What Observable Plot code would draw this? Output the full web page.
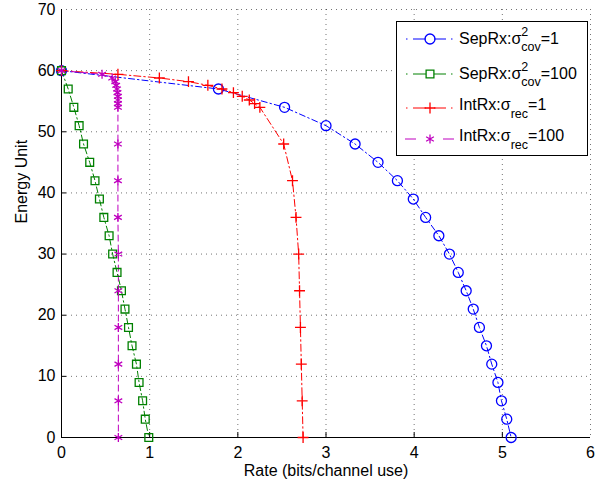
<!DOCTYPE html>
<html>
<head>
<meta charset="utf-8">
<script src="https://cdn.jsdelivr.net/npm/d3@7"></script>
<script src="https://cdn.jsdelivr.net/npm/@observablehq/plot@0.6"></script>
<style>
  body { margin: 0; background: #fff; font-family: "Liberation Sans", Arial, sans-serif; }
  #wrap { position: relative; width: 610px; height: 481px; overflow: hidden; }
  #legend { position: absolute; left: 396px; top: 21px; width: 190px; height: 133px;
            border: 1.5px solid #000; background: #fff; }
  .smp { position: absolute; left: 0; }
  .txt { position: absolute; left: 62px; font-size: 16px; line-height: 16px; white-space: nowrap; color: #000; }
  .sp { font-size: 12.5px; line-height: 0; vertical-align: 8px; }
  .sb { font-size: 12.5px; line-height: 0; vertical-align: -7.5px; }
</style>
</head>
<body>
<div id="wrap">
  <div id="chart"></div>
  <div id="legend"></div>
</div>
<script>
// ---- data ----
const energySep = [60, 57, 54, 51, 48, 45, 42, 39, 36, 33, 30, 27, 24, 21, 18, 15, 12, 9, 6, 3, 0];
const rateSepCov1 = [0, 1.78, 2.53, 3.00, 3.33, 3.59, 3.81, 3.99, 4.13, 4.28, 4.40, 4.50, 4.59, 4.67, 4.74, 4.82, 4.88, 4.95, 4.99, 5.05, 5.10];
const rateSepCov100 = [0, 0.076, 0.14, 0.20, 0.25, 0.32, 0.38, 0.43, 0.48, 0.54, 0.58, 0.63, 0.68, 0.72, 0.76, 0.80, 0.85, 0.88, 0.92, 0.95, 0.99];
const energyInt = [60, 59.4, 58.8, 58.2, 57.6, 57.0, 56.4, 55.8, 55.2, 54.6, 54.0, 48, 42, 36, 30, 24, 18, 12, 6, 0];
const rateIntRec1 = [0, 0.64, 1.11, 1.44, 1.66, 1.82, 1.95, 2.05, 2.13, 2.19, 2.25, 2.52, 2.62, 2.66, 2.69, 2.70, 2.71, 2.72, 2.73, 2.74];
const rateIntRec100 = [0, 0.46, 0.575, 0.61, 0.62, 0.63, 0.635, 0.64, 0.64, 0.64, 0.64, 0.64, 0.64, 0.64, 0.645, 0.645, 0.645, 0.645, 0.645, 0.645];
const xTicks = [0, 1, 2, 3, 4, 5, 6];
const yTicks = [0, 10, 20, 30, 40, 50, 60, 70];
const xLabel = "Rate (bits/channel use)";
const yLabel = "Energy Unit";

// ---- series styles ----
const series = [
  {key: "s1", rates: rateSepCov1, energy: energySep, color: "#0000ff", dash: "6,3,1.5,3", symbol: "circle", r: 5,
   label: 'SepRx:σ<span class="sp">2</span><span class="sb" style="margin-left:-7px">cov</span>=1'},
  {key: "s2", rates: rateSepCov100, energy: energySep, color: "#008000", dash: "6,3,1.5,3", symbol: "square", r: 4.4,
   label: 'SepRx:σ<span class="sp">2</span><span class="sb" style="margin-left:-7px">cov</span>=100'},
  {key: "s3", rates: rateIntRec1, energy: energyInt, color: "#ff0000", dash: "7,3,1.5,3", symbol: "plus", r: 3.6,
   label: 'IntRx:σ<span class="sb">rec</span>=1'},
  {key: "s4", rates: rateIntRec100, energy: energyInt, color: "#bf00bf", dash: "6,4", symbol: "asterisk", r: 4.2,
   label: 'IntRx:σ<span class="sb">rec</span>=100'}
];

const rows = series.map(s => s.rates.map((x, i) => ({x, y: s.energy[i]})));

const W = 610, H = 481, mL = 61, mR = 20, mT = 9, mB = 44;
const frameW = W - mL - mR, frameH = H - mT - mB;
const grid = {stroke: "#000", strokeOpacity: 0.55, strokeDasharray: "1,4", strokeWidth: 1};

const marks = [
  Plot.ruleX(xTicks.slice(1), {x: d => d, ...grid}),
  Plot.ruleY(yTicks.slice(1), {y: d => d, ...grid}),
  Plot.ruleX([0], {stroke: "#000", strokeWidth: 1}),
  Plot.ruleY([0], {stroke: "#000", strokeWidth: 1}),
  Plot.tickX(xTicks.slice(1, -1), {x: d => d, stroke: "#000", insetTop: frameH - 5}),
  Plot.tickY(yTicks.slice(1, -1), {y: d => d, stroke: "#000", insetRight: frameW - 5}),
];
series.forEach((s, i) => {
  marks.push(Plot.line(rows[i], {x: "x", y: "y", stroke: s.color, strokeWidth: 1, strokeDasharray: s.dash}));
});
series.forEach((s, i) => {
  marks.push(Plot.dot(rows[i], {x: "x", y: "y", stroke: s.color, fill: "none", symbol: s.symbol, r: s.r, strokeWidth: 1.3}));
});
marks.push(
  Plot.axisX(xTicks, {tickSize: 0, tickPadding: 9, fontSize: 16, label: null}),
  Plot.axisY(yTicks, {tickSize: 0, tickPadding: 6, fontSize: 16, label: null}),
  Plot.text([xLabel], {frameAnchor: "bottom", dy: 33, text: d => d, fontSize: 16, lineAnchor: "middle"}),
  Plot.text([yLabel], {frameAnchor: "left", dx: -40, text: d => d, fontSize: 16, rotate: -90, lineAnchor: "middle"})
);

const chart = Plot.plot({
  width: W, height: H,
  marginLeft: mL, marginRight: mR, marginTop: mT, marginBottom: mB,
  x: {domain: [0, 6]},
  y: {domain: [0, 70]},
  style: {fontFamily: '"Liberation Sans", Arial, sans-serif', fontSize: "16px", color: "#000", background: "#fff", overflow: "visible"},
  marks
});
document.getElementById("chart").appendChild(chart);

// ---- legend (HTML overlay) ----
const legend = document.getElementById("legend");
const rowCenters = [17, 51.5, 86, 117];
const textBaselines = [22, 57, 88, 119.5];
const symGen = {circle: d3.symbolCircle, square: d3.symbolSquare, plus: d3.symbolPlus, asterisk: d3.symbolAsterisk};
series.forEach((s, i) => {
  const svg = d3.create("svg").attr("class", "smp").attr("width", 60).attr("height", 16)
    .style("top", (rowCenters[i] - 8) + "px");
  const g = svg.append("g").attr("stroke", s.color).attr("fill", "none").attr("stroke-width", 1);
  if (s.dash === "6,4") {
    g.append("line").attr("x1", 8).attr("x2", 19).attr("y1", 8).attr("y2", 8);
    g.append("line").attr("x1", 46).attr("x2", 57).attr("y1", 8).attr("y2", 8);
  } else {
    g.append("line").attr("x1", 9).attr("x2", 10.5).attr("y1", 8).attr("y2", 8);
    g.append("line").attr("x1", 16).attr("x2", 29).attr("y1", 8).attr("y2", 8);
    g.append("line").attr("x1", 37).attr("x2", 49).attr("y1", 8).attr("y2", 8);
    g.append("line").attr("x1", 54).attr("x2", 55.5).attr("y1", 8).attr("y2", 8);
  }
  svg.append("path").attr("transform", `translate(33,8)`)
    .attr("d", d3.symbol(symGen[s.symbol], Math.PI * s.r * s.r)())
    .attr("stroke", s.color).attr("fill", "none").attr("stroke-width", 1.3);
  legend.appendChild(svg.node());
  const t = document.createElement("div");
  t.className = "txt";
  t.style.top = (textBaselines[i] - 13.5) + "px";
  t.innerHTML = s.label;
  legend.appendChild(t);
});
</script>
</body>
</html>
